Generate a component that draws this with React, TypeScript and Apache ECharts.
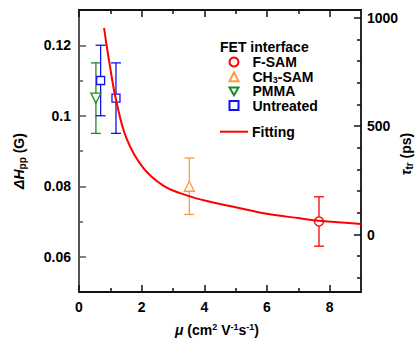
import React, { useEffect, useRef } from 'react';
import * as echarts from 'echarts';

// ---- data ----
const fSamMu = [7.66];
const fSamDH = [0.070];
const fSamErr = [0.007];

const ch3Mu = [3.52];
const ch3DH = [0.080];
const ch3Err = [0.008];

const pmmaMu = [0.54];
const pmmaDH = [0.105];
const pmmaErr = [0.010];

const untreatedMu = [0.69, 1.18];
const untreatedDH = [0.110, 0.105];
const untreatedErr = [0.010, 0.010];

const fitMu = [0.80, 0.88, 0.97, 1.18, 1.52, 2.05, 2.69, 3.44, 4.18, 4.93, 5.99, 7.05, 7.66, 9.0];
const fitDH = [0.1249, 0.1200, 0.1150, 0.1046, 0.0935, 0.0852, 0.0802, 0.0774, 0.0756, 0.0742, 0.0722, 0.0709, 0.0702, 0.0693];

const xTicks = [0, 2, 4, 6, 8];
const xMinorTicks = [1, 3, 5, 7];
const leftTicks = [0.06, 0.08, 0.1, 0.12];
const leftMinorTicks = [0.07, 0.09, 0.11];
const rightTicks = [0, 500, 1000];
const rightMinorTicks = [-200, -100, 100, 200, 300, 400, 600, 700, 800, 900];

const FONT = '"Liberation Sans", Arial, sans-serif';
const RED = '#ff0000';
const ORANGE = '#ff9a3c';
const GREEN = '#1f8a1f';
const BLUE = '#1010f0';
const AXIS = '#111111';

function zip3(a: number[], b: number[], c: number[]) {
  return a.map((v, i) => [v, b[i], c[i]]);
}

function errorSeries(name: string, data: number[][], color: string) {
  return {
    type: 'custom',
    name,
    xAxisIndex: 0,
    yAxisIndex: 0,
    data,
    encode: { x: 0, y: 1 },
    z: 2,
    renderItem: (params: any, api: any) => {
      const x = api.value(0);
      const y = api.value(1);
      const e = api.value(2);
      const top = api.coord([x, y + e]);
      const bot = api.coord([x, y - e]);
      const hw = 5;
      const style = { stroke: color, lineWidth: 1.3 };
      return {
        type: 'group',
        children: [
          { type: 'line', shape: { x1: top[0], y1: top[1], x2: bot[0], y2: bot[1] }, style },
          { type: 'line', shape: { x1: top[0] - hw, y1: top[1], x2: top[0] + hw, y2: top[1] }, style },
          { type: 'line', shape: { x1: bot[0] - hw, y1: bot[1], x2: bot[0] + hw, y2: bot[1] }, style },
        ],
      };
    },
  };
}

function scatterSeries(name: string, mu: number[], dh: number[], color: string, symbol: string, size: number, rotate = 0) {
  return {
    type: 'scatter',
    name,
    xAxisIndex: 0,
    yAxisIndex: 0,
    data: mu.map((v, i) => [v, dh[i]]),
    symbol,
    symbolSize: size,
    symbolRotate: rotate,
    z: 3,
    itemStyle: { color: '#ffffff', borderColor: color, borderWidth: 1.3, opacity: 1 },
  };
}

const tickStyle = { color: AXIS, width: 1.5 };
const labelStyle = { color: '#000', fontWeight: 'bold', fontSize: 14, fontFamily: FONT };

export default function App() {
  const ref = useRef<HTMLDivElement>(null);

  useEffect(() => {
    if (!ref.current) return;
    const chart = echarts.init(ref.current, undefined, { renderer: 'svg' });
    const option: any = {
      animation: false,
      backgroundColor: '#ffffff',
      grid: { left: 79, top: 10, right: 57, bottom: 50, containLabel: false, outerBoundsMode: 'none' },
      xAxis: [
        {
          type: 'value', position: 'bottom', min: 0, max: 9, interval: 1,
          axisLine: { show: true, onZero: false, lineStyle: { color: AXIS, width: 1.8 } },
          axisTick: { show: true, inside: true, length: 7, customValues: xTicks, lineStyle: tickStyle },
          axisLabel: { ...labelStyle, margin: 8, customValues: xTicks },
          splitLine: { show: false },
        },
        {
          type: 'value', position: 'top', min: 0, max: 9, interval: 1,
          axisLine: { show: true, onZero: false, lineStyle: { color: AXIS, width: 1.8 } },
          axisTick: { show: true, inside: true, length: 7, customValues: xTicks, lineStyle: tickStyle },
          axisLabel: { show: false },
          splitLine: { show: false },
        },
        {
          type: 'value', position: 'bottom', min: 0, max: 9, interval: 1,
          axisLine: { show: false, onZero: false },
          axisTick: { show: true, inside: true, length: 4, customValues: xMinorTicks, lineStyle: tickStyle },
          axisLabel: { show: false },
          splitLine: { show: false },
        },
        {
          type: 'value', position: 'top', min: 0, max: 9, interval: 1,
          axisLine: { show: false, onZero: false },
          axisTick: { show: true, inside: true, length: 4, customValues: xMinorTicks, lineStyle: tickStyle },
          axisLabel: { show: false },
          splitLine: { show: false },
        },
      ],
      yAxis: [
        {
          type: 'value', position: 'left', min: 0.05, max: 0.13,
          axisLine: { show: true, onZero: false, lineStyle: { color: '#555555', width: 2 } },
          axisTick: { show: true, inside: true, length: 7, customValues: leftTicks, lineStyle: { color: '#555555', width: 1.5 } },
          axisLabel: { ...labelStyle, margin: 8, customValues: leftTicks },
          splitLine: { show: false },
        },
        {
          type: 'value', position: 'right', min: -265, max: 1036,
          axisLine: { show: true, onZero: false, lineStyle: { color: AXIS, width: 1.8 } },
          axisTick: { show: true, inside: true, length: 7, customValues: rightTicks, lineStyle: tickStyle },
          axisLabel: { ...labelStyle, margin: 6, customValues: rightTicks, formatter: (v: number) => String(v) },
          splitLine: { show: false },
        },
        {
          type: 'value', position: 'left', min: 0.05, max: 0.13,
          axisLine: { show: false, onZero: false },
          axisTick: { show: true, inside: true, length: 4, customValues: leftMinorTicks, lineStyle: { color: '#555555', width: 1.5 } },
          axisLabel: { show: false },
          splitLine: { show: false },
        },
        {
          type: 'value', position: 'right', min: -265, max: 1036,
          axisLine: { show: false, onZero: false },
          axisTick: { show: true, inside: true, length: 4, customValues: rightMinorTicks, lineStyle: tickStyle },
          axisLabel: { show: false },
          splitLine: { show: false },
        },
      ],
      legend: [
        {
          data: [
            'F-SAM',
            'CH3-SAM',
            { name: 'PMMA', icon: 'path://M0,0L10,0L5,8.66Z' },
            'Untreated',
          ],
          orient: 'vertical',
          left: 228.5,
          top: 55,
          padding: 0,
          itemWidth: 9,
          itemHeight: 9,
          itemGap: 0.2,
          selectedMode: false,
          formatter: (n: string) => (n === 'CH3-SAM' ? '{n|CH}{s|3}{n|-SAM}' : '{n|' + n + '}'),
          textStyle: {
            ...labelStyle,
            lineHeight: 14,
            padding: [0, 0, 0, 9],
            rich: {
              n: { fontWeight: 'bold', fontSize: 14, fontFamily: FONT, color: '#000', lineHeight: 14 },
              s: { fontWeight: 'bold', fontSize: 9, fontFamily: FONT, color: '#000', padding: [6, 0, 0, 0], lineHeight: 14 },
            },
          },
        },
        {
          data: [{ name: 'Fitting', icon: 'rect' }],
          orient: 'vertical',
          left: 220,
          top: 124.7,
          padding: 0,
          itemWidth: 28,
          itemHeight: 2,
          selectedMode: false,
          textStyle: { ...labelStyle, lineHeight: 14, padding: [0, 0, 0, -1] },
        },
      ],
      graphic: [
        {
          type: 'text', left: 220, top: 40,
          style: { text: 'FET interface', fontWeight: 'bold', fontSize: 14, fontFamily: FONT, fill: '#000' },
        },
        {
          type: 'text', x: 19, y: 161, rotation: Math.PI / 2,
          style: {
            text: '{i|ΔH}{s|pp}{n| (G)}',
            align: 'center', verticalAlign: 'middle',
            rich: {
              i: { fontStyle: 'italic', fontWeight: 'bold', fontSize: 14, fontFamily: FONT, fill: '#000' },
              s: { fontWeight: 'bold', fontSize: 10, fontFamily: FONT, fill: '#000', padding: [7, 0, 0, 0] },
              n: { fontWeight: 'bold', fontSize: 14, fontFamily: FONT, fill: '#000' },
            },
          },
        },
        {
          type: 'text', x: 406, y: 154, rotation: Math.PI / 2,
          style: {
            text: '{i|τ}{s|tr}{n| (ps)}',
            align: 'center', verticalAlign: 'middle',
            rich: {
              i: { fontStyle: 'italic', fontWeight: 'bold', fontSize: 14, fontFamily: FONT, fill: '#000' },
              s: { fontWeight: 'bold', fontSize: 10, fontFamily: FONT, fill: '#000', padding: [7, 0, 0, 0] },
              n: { fontWeight: 'bold', fontSize: 14, fontFamily: FONT, fill: '#000' },
            },
          },
        },
        {
          type: 'text', x: 217, y: 330,
          style: {
            text: '{i|μ}{n| (cm}{p|2}{n| V}{p|-1}{n|s}{p|-1}{n|)}',
            align: 'center', verticalAlign: 'middle',
            rich: {
              i: { fontStyle: 'italic', fontWeight: 'bold', fontSize: 14, fontFamily: FONT, fill: '#000' },
              p: { fontWeight: 'bold', fontSize: 9, fontFamily: FONT, fill: '#000', padding: [0, 0, 7, 0] },
              n: { fontWeight: 'bold', fontSize: 14, fontFamily: FONT, fill: '#000' },
            },
          },
        },
      ],
      series: [
        errorSeries('F-SAM err', zip3(fSamMu, fSamDH, fSamErr), RED),
        errorSeries('CH3-SAM err', zip3(ch3Mu, ch3DH, ch3Err), ORANGE),
        errorSeries('PMMA err', zip3(pmmaMu, pmmaDH, pmmaErr), GREEN),
        errorSeries('Untreated err', zip3(untreatedMu, untreatedDH, untreatedErr), BLUE),
        scatterSeries('F-SAM', fSamMu, fSamDH, RED, 'circle', 9),
        scatterSeries('CH3-SAM', ch3Mu, ch3DH, ORANGE, 'triangle', 10),
        scatterSeries('PMMA', pmmaMu, pmmaDH, GREEN, 'triangle', 10, 180),
        scatterSeries('Untreated', untreatedMu, untreatedDH, BLUE, 'rect', 8),
        {
          type: 'line',
          name: 'Fitting',
          xAxisIndex: 0,
          yAxisIndex: 0,
          data: fitMu.map((v, i) => [v, fitDH[i]]),
          symbol: 'none',
          smooth: 0.4,
          z: 4,
          lineStyle: { color: RED, width: 2 },
          itemStyle: { color: RED },
        },
      ],
    };
    chart.setOption(option);
    return () => chart.dispose();
  }, []);

  return (
    <div
      ref={ref}
      style={{ position: 'absolute', left: 0, top: 0, width: 418, height: 342, background: '#fff' }}
    />
  );
}
